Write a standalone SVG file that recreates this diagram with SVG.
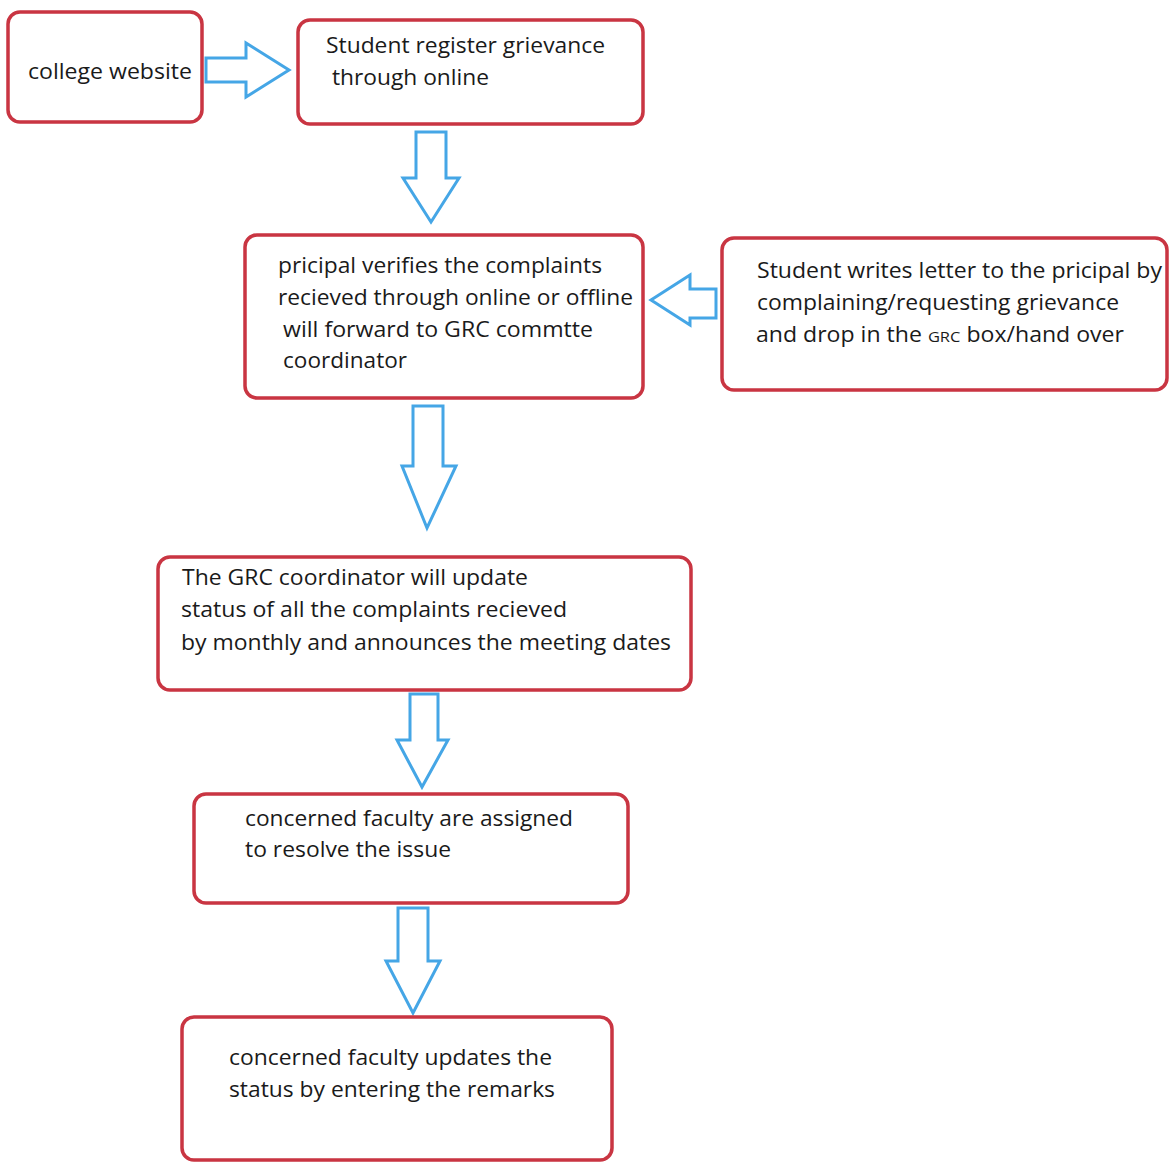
<svg xmlns="http://www.w3.org/2000/svg" width="1169" height="1163" viewBox="0 0 1169 1163">
<style>
.box{fill:#fff;stroke:#c93542;stroke-width:3.5}
.arr{fill:#fff;stroke:#45a6e6;stroke-width:3;stroke-linejoin:miter}
text{font-family:"Open Sans","Noto Sans",sans-serif;font-size:21px;fill:#1a1a1a}
</style>
<rect width="1169" height="1163" fill="#fff"/>
<g id="connectors">
<path class="arr" d="M206,58 H246 V43 L289,70 L246,97 V82 H206 Z"/>
<path class="arr" d="M416,132 H446 V178 H459 L431,222 L403,178 H416 Z"/>
<path class="arr" d="M716,289 H690 V275 L651,300 L690,325 V318 H716 Z"/>
<path class="arr" d="M413,406 H443 V466 H456 L427,528 L402,466 H413 Z"/>
<path class="arr" d="M410,694 H438 V740 H448 L422,787 L397,740 H410 Z"/>
<path class="arr" d="M398,908 H428 V961 H440 L413,1013 L386,961 H398 Z"/>
</g>
<g id="n1"><rect class="box" x="8" y="12" width="194" height="110" rx="12"/>
<text x="28" y="79" textLength="164" lengthAdjust="spacingAndGlyphs">college website</text></g>
<g id="n2"><rect class="box" x="298" y="20" width="345" height="104" rx="12"/>
<text x="326" y="53" textLength="279" lengthAdjust="spacingAndGlyphs">Student register grievance</text>
<text x="332" y="85" textLength="157" lengthAdjust="spacingAndGlyphs">through online</text></g>
<g id="n3"><rect class="box" x="245" y="235" width="398" height="163" rx="12"/>
<text x="278" y="273" textLength="324" lengthAdjust="spacingAndGlyphs">pricipal verifies the complaints</text>
<text x="278" y="305" textLength="355" lengthAdjust="spacingAndGlyphs">recieved through online or offline</text>
<text x="283" y="337" textLength="310" lengthAdjust="spacingAndGlyphs">will forward to GRC commtte</text>
<text x="283" y="368" textLength="124" lengthAdjust="spacingAndGlyphs">coordinator</text></g>
<g id="n4"><rect class="box" x="722" y="238" width="445" height="152" rx="12"/>
<text x="757" y="278" textLength="405" lengthAdjust="spacingAndGlyphs">Student writes letter to the pricipal by</text>
<text x="757" y="310" textLength="362" lengthAdjust="spacingAndGlyphs">complaining/requesting grievance</text>
<text x="756" y="342" textLength="368" lengthAdjust="spacingAndGlyphs">and drop in the <tspan font-size="15">GRC</tspan> box/hand over</text></g>
<g id="n5"><rect class="box" x="158" y="557" width="533" height="133" rx="12"/>
<text x="182" y="585" textLength="346" lengthAdjust="spacingAndGlyphs">The GRC coordinator will update</text>
<text x="181" y="617" textLength="386" lengthAdjust="spacingAndGlyphs">status of all the complaints recieved</text>
<text x="181" y="650" textLength="490" lengthAdjust="spacingAndGlyphs">by monthly and announces the meeting dates</text></g>
<g id="n6"><rect class="box" x="194" y="794" width="434" height="109" rx="12"/>
<text x="245" y="826" textLength="328" lengthAdjust="spacingAndGlyphs">concerned faculty are assigned</text>
<text x="245" y="857" textLength="206" lengthAdjust="spacingAndGlyphs">to resolve the issue</text></g>
<g id="n7"><rect class="box" x="182" y="1017" width="430" height="143" rx="12"/>
<text x="229" y="1065" textLength="323" lengthAdjust="spacingAndGlyphs">concerned faculty updates the</text>
<text x="229" y="1097" textLength="326" lengthAdjust="spacingAndGlyphs">status by entering the remarks</text></g>
</svg>
